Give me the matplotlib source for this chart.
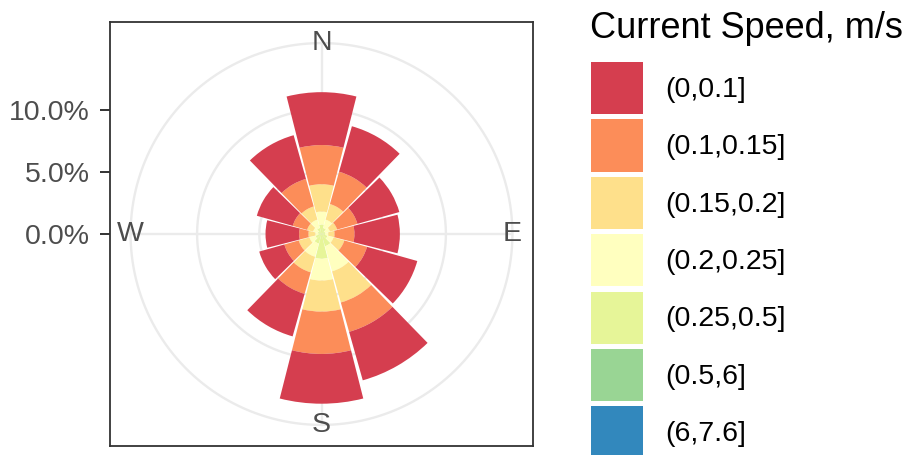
import matplotlib.pyplot as plt
import numpy as np
from matplotlib.patches import Patch

plt.rcParams['font.family'] = ['Liberation Sans', 'DejaVu Sans']

# direction sectors (degrees, clockwise from north)
directions = [0, 30, 60, 90, 120, 150, 180, 210, 240, 270, 300, 330]

# share of records (%) in each direction, one list per speed class
pct_0_01 = [4.25, 3.8, 3.5, 3.65, 4.2, 4.05, 4.0, 3.55, 2.1, 2.7, 3.0, 3.65]
pct_01_015 = [3.15, 2.7, 1.7, 1.6, 1.9, 2.45, 3.4, 1.8, 1.2, 0.75, 1.2, 2.3]
pct_015_02 = [2.2, 1.3, 0.6, 0.5, 0.9, 2.6, 2.5, 1.3, 0.9, 0.55, 0.5, 1.1]
pct_02_025 = [1.05, 0.7, 0.4, 0.25, 0.5, 2.1, 1.75, 1.1, 0.5, 0.25, 0.4, 0.7]
pct_025_05 = [0.75, 0.5, 0.3, 0.3, 0.5, 1.0, 1.95, 0.8, 0.5, 0.25, 0.3, 0.5]
pct_05_6 = [0.0, 0.0, 0.0, 0.0, 0.0, 0.02, 0.03, 0.0, 0.0, 0.0, 0.0, 0.0]
pct_6_76 = [0.0, 0.0, 0.0, 0.0, 0.0, 0.0, 0.01, 0.0, 0.0, 0.0, 0.0, 0.0]

speed_labels = ['(0,0.1]', '(0.1,0.15]', '(0.15,0.2]', '(0.2,0.25]',
                '(0.25,0.5]', '(0.5,6]', '(6,7.6]']
speed_pcts = [pct_0_01, pct_01_015, pct_015_02, pct_02_025,
              pct_025_05, pct_05_6, pct_6_76]
speed_colors = ['#D53E4F', '#FC8D59', '#FEE08B', '#FFFFBF',
                '#E6F598', '#99D594', '#3288BD']

r_ticks = [0, 5, 10]
r_tick_labels = ['0.0%', '5.0%', '10.0%']
compass = ['N', 'E', 'S', 'W']
compass_deg = [0, 90, 180, 270]

fig = plt.figure(figsize=(9.11, 4.55), dpi=100)
rect = [110 / 911, 9 / 455, 423 / 911, 424 / 455]

# square panel with the radial axis on the left
frame = fig.add_axes(rect)
frame.set_xlim(-17.0, 17.0)
frame.set_ylim(-17.03, 17.03)
frame.set_xticks([])
frame.set_yticks(r_ticks)
frame.set_yticklabels(r_tick_labels)
frame.tick_params(axis='y', length=7.2, width=1.4, pad=7.2, color='#333333',
                  labelcolor='#4D4D4D', labelsize=20.5)
for s in frame.spines.values():
    s.set_color('#333333')
    s.set_linewidth(1.3)

# polar rose on top
ax = fig.add_axes(rect, projection='polar')
ax.patch.set_alpha(0)
ax.set_theta_zero_location('N')
ax.set_theta_direction(-1)
ax.set_ylim(0, 17.0)
ax.set_xticks([])
ax.set_yticks([])
ax.grid(False)
ax.spines['polar'].set_visible(False)

r_max = max(np.sum(speed_pcts, axis=0))
r_outer = r_max * 0.45 / 0.4

grid_col = '#EBEBEB'
t = np.linspace(0, 2 * np.pi, 400)
for r in [5, 10, r_outer]:
    ax.plot(t, np.full_like(t, r), color=grid_col, lw=1.7, zorder=0.5)
for d in compass_deg:
    ax.plot([np.deg2rad(d)] * 2, [0, r_outer], color=grid_col, lw=1.7, zorder=0.5)

theta = np.deg2rad(directions)
width = np.deg2rad(30) * 0.95
bottom = np.zeros(len(directions))
for vals, col in zip(speed_pcts[::-1], speed_colors[::-1]):
    vals = np.array(vals)
    ax.bar(theta, vals, width=width, bottom=bottom, color=col, linewidth=0, zorder=2)
    bottom += vals

for lab, d in zip(compass, compass_deg):
    ax.text(np.deg2rad(d), r_outer, lab, ha='center', va='center',
            fontsize=20.5, color='#4D4D4D', zorder=3)

# legend
handles = [Patch(facecolor=c, edgecolor='none') for c in speed_colors]
fig.legend(handles, speed_labels, loc='upper left',
           bbox_to_anchor=(591 / 911, 1 - 62 / 455), frameon=False,
           borderpad=0, borderaxespad=0, fontsize=20.5,
           handlelength=1.83, handleheight=2.44, labelspacing=0.185,
           handletextpad=0.77)
fig.text(590 / 911, 1 - 38 / 455, 'Current Speed, m/s', fontsize=26,
         ha='left', va='baseline')

fig.savefig('out.png', dpi=100)
